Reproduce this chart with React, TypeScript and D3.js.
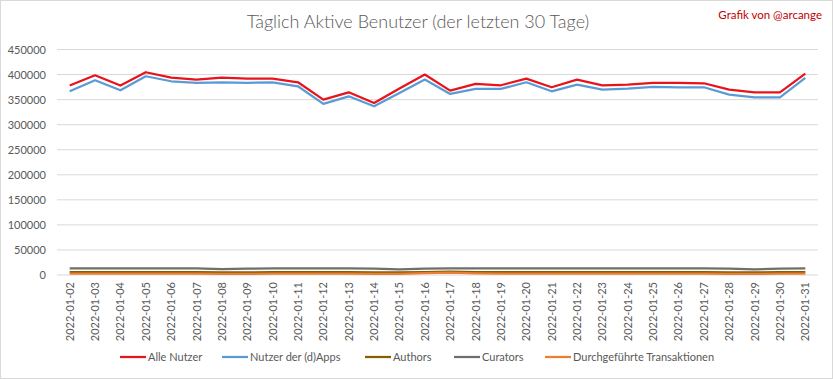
import React from "react";
import * as d3 from "d3";

const days: string[] = [
  "2022-01-02","2022-01-03","2022-01-04","2022-01-05","2022-01-06","2022-01-07","2022-01-08","2022-01-09","2022-01-10","2022-01-11",
  "2022-01-12","2022-01-13","2022-01-14","2022-01-15","2022-01-16","2022-01-17","2022-01-18","2022-01-19","2022-01-20","2022-01-21",
  "2022-01-22","2022-01-23","2022-01-24","2022-01-25","2022-01-26","2022-01-27","2022-01-28","2022-01-29","2022-01-30","2022-01-31",
];

const alleNutzer: number[] = [
  378000, 398600, 378000, 404600, 394000, 390000, 394000, 392000, 392000, 384600,
  350000, 364600, 343400, 372000, 400000, 368000, 381400, 378600, 392000, 374600,
  390000, 378600, 380000, 383400, 383400, 382600, 370000, 364600, 364600, 402000,
];
const dappsNutzer: number[] = [
  366600, 388600, 368600, 396600, 386600, 383400, 384600, 383400, 384600, 376600,
  341400, 356600, 336600, 363400, 390000, 361400, 371400, 371400, 384600, 366600,
  380000, 370000, 372000, 375400, 374600, 374600, 360000, 354600, 354600, 393400,
];
const authors: number[] = [
  5500, 5500, 5500, 5500, 5500, 5500, 5000, 5200, 5500, 5500,
  5500, 5500, 5300, 5000, 5500, 6500, 5800, 5500, 5500, 5500,
  5500, 5500, 5500, 5500, 5500, 5500, 5300, 5200, 5500, 5500,
];
const curators: number[] = [
  13000, 13000, 13000, 13000, 13000, 13000, 11500, 12800, 13000, 13000,
  13000, 13000, 12500, 11200, 12800, 13000, 13000, 13000, 13000, 13000,
  13000, 13000, 13000, 13000, 13000, 13000, 12500, 11200, 12800, 13000,
];
const transaktionen: number[] = [
  2500, 2500, 2500, 2500, 2500, 2500, 2000, 2300, 2500, 2500,
  2500, 2500, 2300, 2000, 3500, 4500, 3000, 2500, 2500, 2500,
  2500, 2500, 2500, 2500, 2500, 2500, 2300, 2200, 2500, 2500,
];
const yTicks: number[] = [0, 50000, 100000, 150000, 200000, 250000, 300000, 350000, 400000, 450000];

const seriesNames: string[] = ["Alle Nutzer", "Nutzer der (d)Apps", "Authors", "Curators", "Durchgeführte Transaktionen"];
const seriesColors: string[] = ["#e8141c", "#5b9bd5", "#806000", "#6f6f6f", "#ed7d31"];

export default function App() {
  const W = 833, H = 379;
  const left = 57, right = 818, top = 49.5, bottom = 275;
  const x = d3.scaleBand<string>().domain(days).range([left, right]);
  const y = d3.scaleLinear().domain([0, 450000]).range([bottom, top]);
  const cx = (d: string) => (x(d) as number) + x.bandwidth() / 2;
  const line = d3.line<number>().x((_, i) => cx(days[i])).y((v) => y(v));
  const data = [alleNutzer, dappsNutzer, authors, curators, transaktionen];
  const drawOrder = [3, 2, 4, 1, 0];
  const font = "Lato, 'Open Sans', sans-serif";
  const legendX = [120, 222, 365, 454, 545];
  return (
    <svg width={W} height={H} style={{ position: "absolute", left: 0, top: 0, background: "#fff" }} fontFamily={font}>
      <rect x={0.5} y={0.5} width={W - 1} height={H - 1} fill="#fff" stroke="#d9d9d9" />
      <text x={418} y={28} textAnchor="middle" fontSize={18} fill="#595959" fontWeight={300}>
        Täglich Aktive Benutzer (der letzten 30 Tage)
      </text>
      <text x={822} y={19} textAnchor="end" fontSize={11.5} fill="#c00000">Grafik von @arcange</text>
      {yTicks.map((t) => (
        <g key={t}>
          <line x1={left} x2={right} y1={y(t)} y2={y(t)} stroke="#d9d9d9" strokeWidth={1} />
          <text x={46} y={y(t) + 4} textAnchor="end" fontSize={11} fill="#595959">{t}</text>
        </g>
      ))}
      {days.map((d) => (
        <text key={d} transform={`translate(${cx(d) + 4},${282}) rotate(-90)`} textAnchor="end" fontSize={11} fill="#595959">
          {d}
        </text>
      ))}
      {drawOrder.map((k) => (
        <path key={k} d={line(data[k]) || ""} fill="none" stroke={seriesColors[k]} strokeWidth={2.25} strokeLinejoin="round" />
      ))}
      {seriesNames.map((n, i) => (
        <g key={n}>
          <line x1={legendX[i]} x2={legendX[i] + 26} y1={357} y2={357} stroke={seriesColors[i]} strokeWidth={2.25} />
          <text x={legendX[i] + 28} y={361} fontSize={11} fill="#595959">{n}</text>
        </g>
      ))}
    </svg>
  );
}
